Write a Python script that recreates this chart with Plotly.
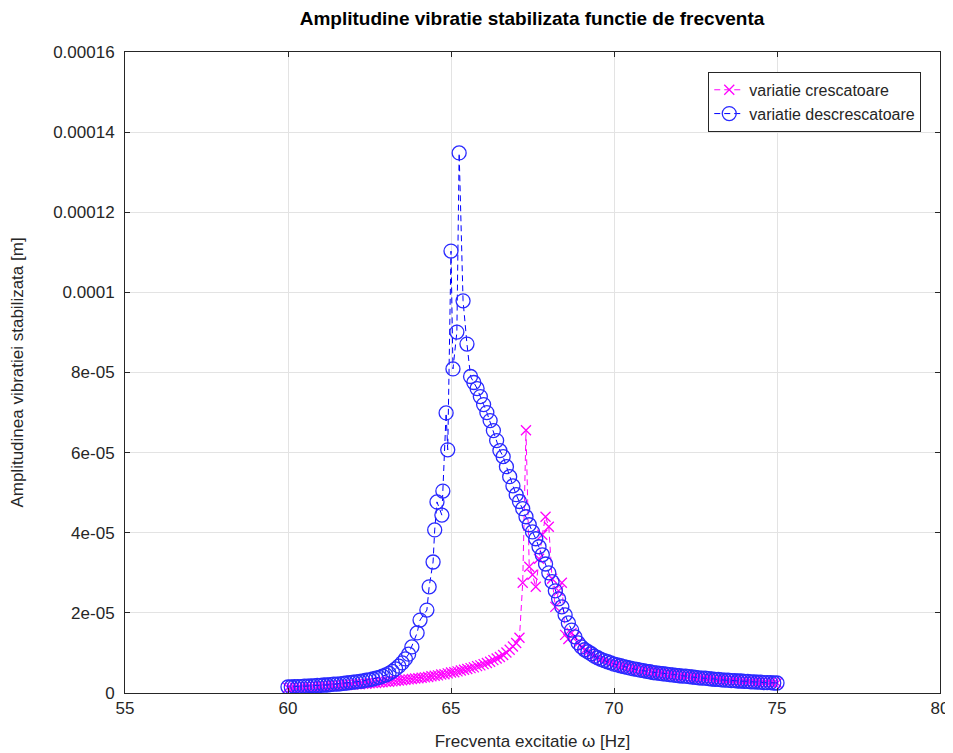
import plotly.graph_objects as go

# ---------------- data ----------------
# ascending sweep (variatie crescatoare), frequency [Hz] and amplitude [m]
pink_freq = [60.0, 60.1, 60.2, 60.3, 60.4, 60.5, 60.6, 60.7, 60.8, 60.9,
             61.0, 61.1, 61.2, 61.3, 61.4, 61.5, 61.6, 61.7, 61.8, 61.9,
             62.0, 62.1, 62.2, 62.3, 62.4, 62.5, 62.6, 62.7, 62.8, 62.9,
             63.0, 63.1, 63.2, 63.3, 63.4, 63.5, 63.6, 63.7, 63.8, 63.9,
             64.0, 64.1, 64.2, 64.3, 64.4, 64.5, 64.6, 64.7, 64.8, 64.9,
             65.0, 65.1, 65.2, 65.3, 65.4, 65.5, 65.6, 65.7, 65.8, 65.9,
             66.0, 66.1, 66.2, 66.3, 66.4, 66.5, 66.6, 66.7, 66.8, 66.9,
             67.0, 67.1, 67.2, 67.3, 67.4, 67.5, 67.6, 67.7, 67.8, 67.9,
             68.0, 68.1, 68.2, 68.3, 68.4, 68.5, 68.6, 68.7, 68.8, 68.9,
             69.0, 69.1, 69.2, 69.3, 69.4, 69.5, 69.6, 69.7, 69.8, 69.9,
             70.0, 70.1, 70.2, 70.3, 70.4, 70.5, 70.6, 70.7, 70.8, 70.9,
             71.0, 71.1, 71.2, 71.3, 71.4, 71.5, 71.6, 71.7, 71.8, 71.9,
             72.0, 72.1, 72.2, 72.3, 72.4, 72.5, 72.6, 72.7, 72.8, 72.9,
             73.0, 73.1, 73.2, 73.3, 73.4, 73.5, 73.6, 73.7, 73.8, 73.9,
             74.0, 74.1, 74.2, 74.3, 74.4, 74.5, 74.6, 74.7, 74.8, 74.9, 75.0]
pink_amp_e5 = [0.13, 0.13, 0.14, 0.14, 0.14, 0.15, 0.15, 0.15, 0.16, 0.16,
               0.17, 0.17, 0.17, 0.18, 0.18, 0.19, 0.19, 0.20, 0.20, 0.21,
               0.21, 0.22, 0.22, 0.23, 0.23, 0.24, 0.25, 0.25, 0.26, 0.27,
               0.28, 0.28, 0.29, 0.30, 0.31, 0.32, 0.33, 0.34, 0.35, 0.36,
               0.37, 0.38, 0.39, 0.40, 0.42, 0.43, 0.44, 0.46, 0.47, 0.49,
               0.51, 0.52, 0.54, 0.56, 0.58, 0.60, 0.62, 0.64, 0.67, 0.69,
               0.72, 0.75, 0.78, 0.82, 0.86, 0.90, 0.95, 1.01, 1.08, 1.16,
               1.25, 1.38, 2.75, 6.56, 3.15, 2.95, 2.65, 3.35, 3.95, 4.40,
               4.15, 2.85, 2.15, 2.55, 2.75, 1.45, 1.35, 1.50, 1.40, 1.25,
               1.15, 1.07, 1.03, 0.98, 0.92, 0.88, 0.84, 0.81, 0.78, 0.75,
               0.72, 0.70, 0.68, 0.66, 0.64, 0.62, 0.60, 0.59, 0.57, 0.56,
               0.54, 0.53, 0.51, 0.50, 0.49, 0.48, 0.47, 0.46, 0.45, 0.44,
               0.43, 0.42, 0.42, 0.41, 0.40, 0.39, 0.38, 0.37, 0.37, 0.36,
               0.35, 0.34, 0.34, 0.33, 0.32, 0.32, 0.31, 0.31, 0.30, 0.30,
               0.29, 0.29, 0.28, 0.28, 0.27, 0.27, 0.26, 0.26, 0.26, 0.25, 0.25]

# descending sweep (variatie descrescatoare), in sweep order 75 -> 60
blue_freq = [75.0, 74.9, 74.8, 74.7, 74.6, 74.5, 74.4, 74.3, 74.2, 74.1,
             74.0, 73.9, 73.8, 73.7, 73.6, 73.5, 73.4, 73.3, 73.2, 73.1,
             73.0, 72.9, 72.8, 72.7, 72.6, 72.5, 72.4, 72.3, 72.2, 72.1,
             72.0, 71.9, 71.8, 71.7, 71.6, 71.5, 71.4, 71.3, 71.2, 71.1,
             71.0, 70.9, 70.8, 70.7, 70.6, 70.5, 70.4, 70.3, 70.2, 70.1,
             70.0, 69.9, 69.8, 69.7, 69.6, 69.5, 69.4, 69.3, 69.2, 69.1,
             69.0, 68.9, 68.8, 68.7, 68.6, 68.5, 68.4, 68.3, 68.2, 68.1,
             68.0, 67.9, 67.8, 67.7, 67.6, 67.5, 67.4, 67.3, 67.2, 67.1,
             67.0, 66.9, 66.8, 66.7, 66.6, 66.5, 66.4, 66.3, 66.2, 66.1,
             66.0, 65.9, 65.8, 65.7, 65.6,
             65.49, 65.37, 65.25, 65.18, 65.06, 65.0, 64.9, 64.85, 64.75,
             64.72, 64.57, 64.5, 64.45, 64.33, 64.26, 64.05, 63.96,
             63.8, 63.7, 63.6, 63.5, 63.4, 63.3, 63.2, 63.1,
             63.0, 62.9, 62.8, 62.7, 62.6, 62.5, 62.4, 62.3, 62.2, 62.1,
             62.0, 61.9, 61.8, 61.7, 61.6, 61.5, 61.4, 61.3, 61.2, 61.1,
             61.0, 60.9, 60.8, 60.7, 60.6, 60.5, 60.4, 60.3, 60.2, 60.1, 60.0]
blue_amp_e5 = [0.25, 0.25, 0.26, 0.26, 0.26, 0.27, 0.27, 0.28, 0.28, 0.29,
               0.29, 0.30, 0.30, 0.31, 0.31, 0.32, 0.32, 0.33, 0.34, 0.34,
               0.35, 0.36, 0.37, 0.37, 0.38, 0.39, 0.40, 0.41, 0.42, 0.42,
               0.43, 0.44, 0.45, 0.46, 0.47, 0.48, 0.49, 0.50, 0.51, 0.53,
               0.54, 0.56, 0.57, 0.59, 0.60, 0.62, 0.64, 0.66, 0.68, 0.70,
               0.72, 0.75, 0.78, 0.81, 0.84, 0.88, 0.92, 0.98, 1.03, 1.08,
               1.15, 1.25, 1.40, 1.57, 1.75, 1.95, 2.15, 2.35, 2.55, 2.78,
               3.00, 3.22, 3.45, 3.65, 3.85, 4.02, 4.20, 4.40, 4.60, 4.78,
               4.95, 5.17, 5.40, 5.65, 5.90, 6.05, 6.30, 6.55, 6.80, 7.00,
               7.20, 7.40, 7.60, 7.75, 7.90,
               8.71, 9.79, 13.48, 9.01, 8.09, 11.03, 6.07, 6.99, 5.04,
               4.44, 4.77, 4.07, 3.27, 2.65, 2.07, 1.82, 1.50,
               1.15, 0.97, 0.85, 0.75, 0.67, 0.60, 0.54, 0.49,
               0.45, 0.42, 0.39, 0.37, 0.35, 0.33, 0.32, 0.30, 0.29, 0.28,
               0.27, 0.26, 0.25, 0.24, 0.23, 0.22, 0.22, 0.21, 0.20, 0.20,
               0.19, 0.19, 0.18, 0.18, 0.17, 0.17, 0.16, 0.16, 0.16, 0.15, 0.15]

x_ticks = [55, 60, 65, 70, 75, 80]
y_tick_vals = [0, 2e-05, 4e-05, 6e-05, 8e-05, 0.0001, 0.00012, 0.00014, 0.00016]
y_tick_text = ["0", "2e-05", "4e-05", "6e-05", "8e-05", "0.0001", "0.00012", "0.00014", "0.00016"]

pink_amp = [v * 1e-5 for v in pink_amp_e5]
blue_amp = [v * 1e-5 for v in blue_amp_e5]

FONT = "Liberation Sans, Arial, sans-serif"
AXC = "#262626"
# the page body has an 8px default margin, so the figure is 8px smaller
W, H = 945, 745

fig = go.Figure()
fig.add_trace(go.Scatter(
    x=pink_freq, y=pink_amp, mode="lines+markers", name="variatie crescatoare",
    line=dict(color="#ff00ff", width=1, dash="6px,4px"),
    marker=dict(symbol="x-thin-open", size=10, color="#ff00ff",
                line=dict(color="#ff00ff", width=1.3)),
))
fig.add_trace(go.Scatter(
    x=blue_freq, y=blue_amp, mode="lines+markers", name="variatie descrescatoare",
    line=dict(color="#0000ff", width=1, dash="6px,4px"),
    marker=dict(symbol="circle-open", size=14, color="#2a2aff",
                line=dict(color="#2a2aff", width=1.3)),
))

fig.update_layout(
    width=W, height=H,
    margin=dict(l=117, r=13, t=44, b=60),
    paper_bgcolor="white", plot_bgcolor="white",
    font=dict(family=FONT, size=17, color=AXC),
    title=dict(text="<b>Amplitudine vibratie stabilizata functie de frecventa</b>",
               x=(532 - 8) / W, xanchor="center", xref="container",
               y=1 - 10 / H, yanchor="middle", yref="container",
               font=dict(family=FONT, size=19, color="#000000")),
    showlegend=True,
    legend=dict(x=0.977, y=0.969, xanchor="right", yanchor="top",
                bgcolor="white", bordercolor=AXC, borderwidth=1,
                font=dict(family=FONT, size=16, color=AXC),
                tracegroupgap=0, itemwidth=30),
    xaxis=dict(range=[55, 80], tickvals=x_ticks, ticks="inside", ticklen=5,
               tickcolor=AXC, showline=True, linecolor=AXC, linewidth=1,
               mirror="ticks", showgrid=True, gridcolor="#e3e3e3", gridwidth=1,
               zeroline=False, automargin=False,
               title=dict(text="Frecventa excitatie ω [Hz]", standoff=17,
                          font=dict(family=FONT, size=17, color=AXC))),
    yaxis=dict(range=[0, 0.00016], tickvals=y_tick_vals, ticktext=y_tick_text,
               ticks="inside", ticklen=5, tickcolor=AXC, showline=True,
               linecolor=AXC, linewidth=1, mirror="ticks", showgrid=True,
               gridcolor="#e3e3e3", gridwidth=1, zeroline=False,
               ticklabelstandoff=6, automargin=False,
               title=dict(text="Amplitudinea vibratiei stabilizata [m]", standoff=26,
                          font=dict(family=FONT, size=17, color=AXC))),
)

fig.write_html("out.html")
